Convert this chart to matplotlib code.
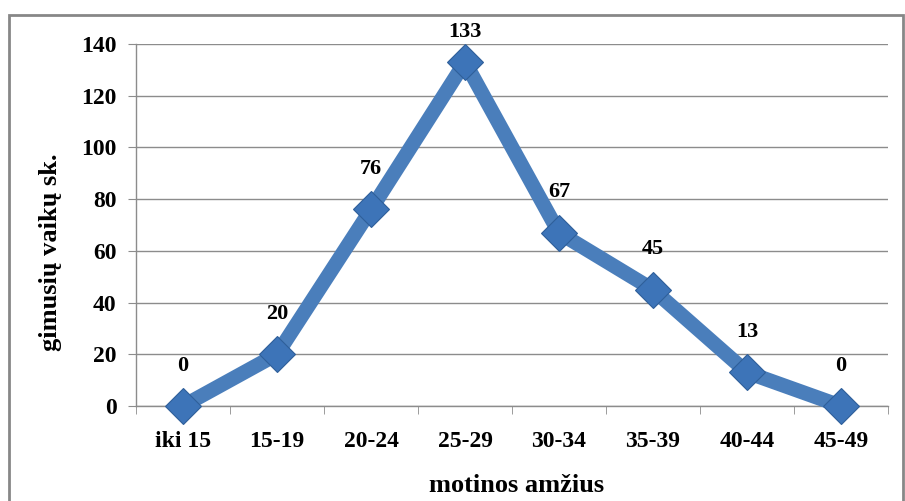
#!/usr/bin/env python

import numpy as np
import matplotlib
matplotlib.use("Agg")
import matplotlib.pyplot as plt
from matplotlib.patches import Rectangle

# data
age_groups = ["iki 15", "15-19", "20-24", "25-29", "30-34", "35-39", "40-44", "45-49"]
births = [0, 20, 76, 133, 67, 45, 13, 0]
yticks = [0, 20, 40, 60, 80, 100, 120, 140]

plt.rcParams['font.family'] = ['Liberation Serif', 'DejaVu Serif']
plt.rcParams['font.weight'] = 'bold'

W, H = 905, 501
fig = plt.figure(figsize=(W/100., H/100.), dpi=100)
ax = fig.add_axes([136./W, 1-406./H, (888-136.)/W, (406-44.)/H])

# outer chart border
fig.patches.append(Rectangle((9./W, 1-520./H), (903-9.)/W, (520-15.)/H,
                             transform=fig.transFigure, fill=False,
                             edgecolor="#878787", linewidth=2))

x = np.arange(len(age_groups))
blue = "#4a7ebb"
ax.plot(x, births, color=blue, linewidth=10.5, solid_joinstyle="round",
        marker="D", markersize=18.5, markerfacecolor="#3d74b8",
        markeredgecolor="#2f5f9a", markeredgewidth=0.8, zorder=3, clip_on=False)

for xi, v in zip(x, births):
    # label above point, kept inside the chart area near the top
    off = 29 if v < 130 else 22
    ax.annotate(str(v), (xi, v), xytext=(0, off), textcoords="offset points",
                ha="center", va="center", fontsize=16, fontweight="bold")

ax.set_xlim(-0.5, len(age_groups)-0.5)
ax.set_ylim(0, 140)
ax.set_yticks(yticks)
ax.set_yticklabels([str(t) for t in yticks], fontsize=17, fontweight="bold")
ax.set_xticks(x)
ax.set_xticklabels(age_groups, fontsize=17, fontweight="bold")
ax.tick_params(axis="x", length=0, pad=18)
ax.tick_params(axis="y", length=6, color="#8c8c8c", pad=8)

# category boundary ticks
ax.set_xticks(np.arange(-0.5, len(age_groups)), minor=True)
ax.tick_params(axis="x", which="minor", length=6, color="#8c8c8c")

ax.grid(axis="y", color="#8c8c8c", linewidth=1)
ax.set_axisbelow(True)
for s in ["top", "right"]:
    ax.spines[s].set_visible(False)
for s in ["left", "bottom"]:
    ax.spines[s].set_color("#8c8c8c")
    ax.spines[s].set_linewidth(1)

fig.text(50./W, 1-252./H, "gimusių vaikų sk.", rotation=90, ha="center", va="center",
         fontsize=19, fontweight="bold")
fig.text(517./W, 1-485./H, "motinos amžius", ha="center", va="center",
         fontsize=19, fontweight="bold")

plt.savefig("out.png", dpi=100)
